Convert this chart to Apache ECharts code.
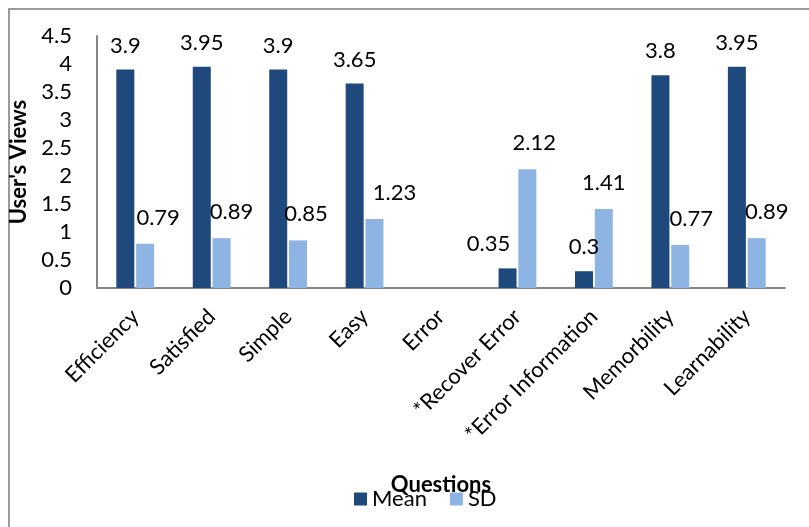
<!DOCTYPE html>
<html>
<head>
<meta charset="utf-8">
<script src="https://cdn.jsdelivr.net/npm/echarts@6/dist/echarts.min.js"></script>
<style>html,body{margin:0;padding:0;background:#fff}#c{width:809px;height:527px}</style>
</head>
<body>
<div id="c"></div>
<script>
var categories = ['Efficiency', 'Satisfied', 'Simple', 'Easy', 'Error', '*Recover Error', '*Error Information', 'Memorbility', 'Learnability'];
var meanValues = [3.9, 3.95, 3.9, 3.65, null, 0.35, 0.3, 3.8, 3.95];
var sdValues = [0.79, 0.89, 0.85, 1.23, null, 2.12, 1.41, 0.77, 0.89];
var yTicks = [0, 0.5, 1, 1.5, 2, 2.5, 3, 3.5, 4, 4.5];

var FONT = 'Lato';
var FS = 22;
var meanOffsetX = [0, 0, 0, 0, 0, -19, 0, 0, 0];
var sdOffsetX = [13, 10, 8, 20, 0, 7, 0, 11, 10];

function build(vals, offs, dy) {
  return vals.map(function (v, i) {
    return { value: v, label: { offset: [offs[i], dy] } };
  });
}

var chart = echarts.init(document.getElementById('c'));
chart.setOption({
  animation: false,
  textStyle: { fontFamily: FONT },
  graphic: [{
    type: 'rect', silent: true, z: -10,
    shape: { x: 9, y: 9, width: 900, height: 700 },
    style: { fill: 'none', stroke: '#9a9a9a', lineWidth: 2 }
  }],
  grid: { left: 97, right: 24, top: 36, bottom: 239 },
  legend: {
    left: 349, top: 483,
    itemWidth: 13, itemHeight: 13, itemGap: 23,
    icon: 'rect',
    textStyle: { fontFamily: FONT, fontSize: FS, color: '#000' },
    data: ['Mean', 'SD']
  },
  xAxis: {
    type: 'category',
    data: categories,
    name: 'Questions',
    nameLocation: 'middle',
    nameGap: 186,
    nameTextStyle: { fontFamily: FONT, fontSize: FS, fontWeight: 'bold', color: '#000' },
    axisLine: { lineStyle: { color: '#868686', width: 2 } },
    axisTick: { show: false },
    axisLabel: { rotate: 45, interval: 0, margin: 25, fontFamily: FONT, fontSize: FS, color: '#000' }
  },
  yAxis: {
    type: 'value',
    min: yTicks[0], max: yTicks[yTicks.length - 1], interval: 0.5,
    name: "User's Views",
    nameLocation: 'middle',
    nameGap: 54,
    nameTextStyle: { fontFamily: FONT, fontSize: FS, fontWeight: 'bold', color: '#000' },
    axisLine: { show: true, lineStyle: { color: '#868686', width: 2 } },
    axisTick: { show: false },
    splitLine: { show: false },
    axisLabel: { margin: 25, fontFamily: FONT, fontSize: FS, color: '#000' }
  },
  series: [{
    name: 'Mean', type: 'bar',
    data: build(meanValues, meanOffsetX, -8),
    barWidth: 18, barGap: '10%',
    itemStyle: { color: '#1F497D' },
    label: { show: true, position: 'top', fontFamily: FONT, fontSize: FS, color: '#000' }
  }, {
    name: 'SD', type: 'bar',
    data: build(sdValues, sdOffsetX, -10),
    barWidth: 18,
    itemStyle: { color: '#8EB4E3' },
    label: { show: true, position: 'top', fontFamily: FONT, fontSize: FS, color: '#000' }
  }]
});
</script>
</body>
</html>
